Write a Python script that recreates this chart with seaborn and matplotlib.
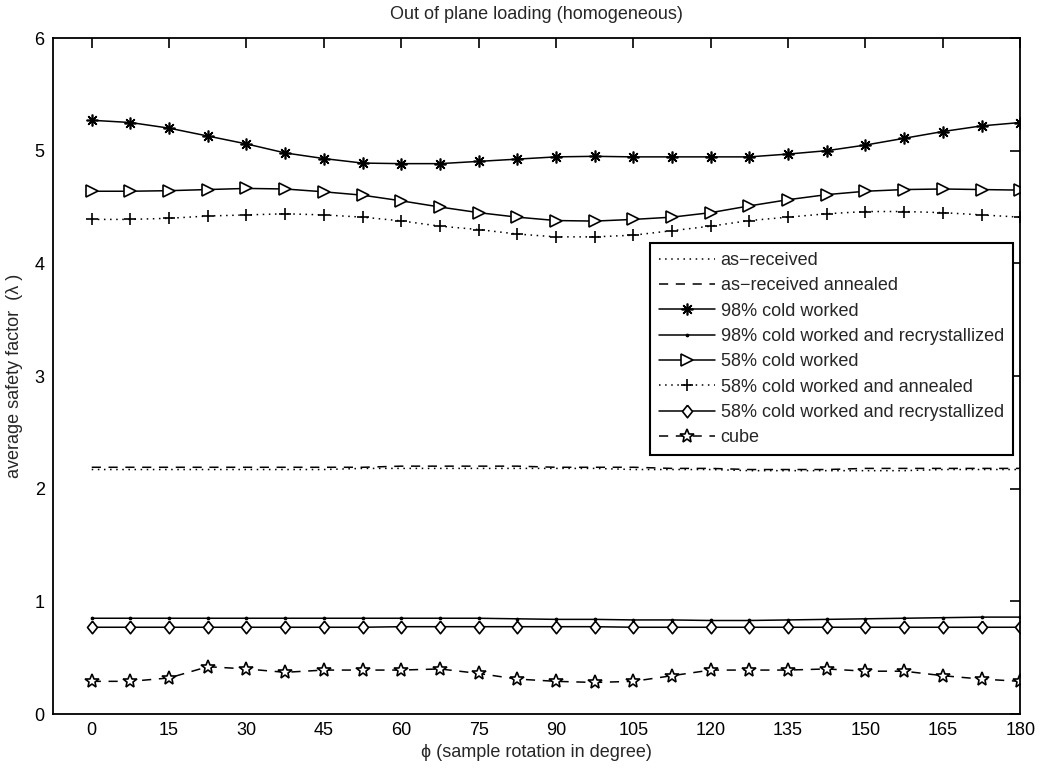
import numpy as np
import pandas as pd
import matplotlib
matplotlib.use("Agg")
import matplotlib.pyplot as plt
import seaborn as sns

# Sample rotation angles (degrees)
phi = [0, 7.5, 15, 22.5, 30, 37.5, 45, 52.5, 60, 67.5, 75, 82.5, 90,
       97.5, 105, 112.5, 120, 127.5, 135, 142.5, 150, 157.5, 165, 172.5, 180]

as_received = [2.17, 2.17, 2.17, 2.17, 2.17, 2.17, 2.17, 2.18, 2.18, 2.18, 2.18, 2.18, 2.18,
               2.18, 2.17, 2.17, 2.17, 2.16, 2.16, 2.16, 2.16, 2.16, 2.17, 2.17, 2.17]
as_received_annealed = [2.19, 2.19, 2.19, 2.19, 2.19, 2.19, 2.19, 2.19, 2.20, 2.20, 2.20, 2.20, 2.19,
                        2.19, 2.19, 2.18, 2.18, 2.17, 2.17, 2.17, 2.18, 2.18, 2.18, 2.18, 2.18]
cw98 = [5.27, 5.25, 5.20, 5.13, 5.06, 4.98, 4.93, 4.89, 4.885, 4.885, 4.905, 4.925, 4.945,
        4.95, 4.945, 4.945, 4.945, 4.945, 4.97, 5.00, 5.05, 5.11, 5.17, 5.22, 5.25]
cw98_recryst = [0.85, 0.85, 0.85, 0.85, 0.85, 0.85, 0.85, 0.85, 0.85, 0.85, 0.85, 0.845, 0.84,
                0.84, 0.835, 0.835, 0.83, 0.83, 0.835, 0.84, 0.845, 0.85, 0.855, 0.86, 0.86]
cw58 = [4.64, 4.64, 4.645, 4.655, 4.665, 4.66, 4.635, 4.605, 4.555, 4.50, 4.45, 4.41, 4.38,
        4.375, 4.39, 4.41, 4.45, 4.51, 4.565, 4.61, 4.64, 4.655, 4.66, 4.655, 4.65]
cw58_annealed = [4.39, 4.39, 4.40, 4.42, 4.43, 4.44, 4.43, 4.41, 4.377, 4.33, 4.30, 4.26, 4.235,
                 4.235, 4.25, 4.29, 4.33, 4.38, 4.41, 4.44, 4.46, 4.46, 4.45, 4.43, 4.41]
cw58_recryst = [0.77, 0.77, 0.77, 0.77, 0.77, 0.77, 0.77, 0.77, 0.775, 0.775, 0.775, 0.775, 0.775,
                0.775, 0.77, 0.77, 0.77, 0.77, 0.77, 0.77, 0.77, 0.77, 0.77, 0.77, 0.77]
cube = [0.29, 0.29, 0.32, 0.42, 0.40, 0.37, 0.39, 0.39, 0.39, 0.40, 0.36, 0.31, 0.29,
        0.28, 0.29, 0.34, 0.39, 0.39, 0.39, 0.40, 0.38, 0.38, 0.34, 0.31, 0.29]

labels = ["as\u2212received", "as\u2212received annealed", "98% cold worked",
          "98% cold worked and recrystallized", "58% cold worked",
          "58% cold worked and annealed", "58% cold worked and recrystallized", "cube"]
series = [as_received, as_received_annealed, cw98, cw98_recryst, cw58,
          cw58_annealed, cw58_recryst, cube]
xticks = [0, 15, 30, 45, 60, 75, 90, 105, 120, 135, 150, 165, 180]
yticks = [0, 1, 2, 3, 4, 5, 6]

FS = 13

sns.set_style("white")
plt.rcParams["font.family"] = ["Liberation Sans", "DejaVu Sans"]
plt.rcParams["font.size"] = FS

fig = plt.figure(figsize=(10.4, 7.68), dpi=100)
ax = fig.add_axes([0.051, 0.0703, 0.930, 0.8802])

diamond = [(0, 1), (0.8, 0), (0, -1), (-0.8, 0), (0, 1)]
styles = [
    dict(linestyle=(0, (1, 3)), marker=None),
    dict(linestyle=(0, (6, 5)), marker=None),
    dict(linestyle="-", marker=(8, 2, 0), markersize=8.5),
    dict(linestyle="-", marker=".", markersize=3),
    dict(linestyle="-", marker=">", markersize=8.5, markerfacecolor="white"),
    dict(linestyle=(0, (1, 3)), marker="+", markersize=9),
    dict(linestyle="-", marker=diamond, markersize=9, markerfacecolor="white"),
    dict(linestyle=(0, (6, 5)), marker="*", markersize=10.5, markerfacecolor="white"),
]

for lab, vals, st in zip(labels, series, styles):
    df = pd.DataFrame({"phi": phi, "val": vals})
    kw = dict(color="black", linewidth=1.1, markeredgecolor="black",
              markeredgewidth=1.2)
    kw.update(st)
    if kw["marker"] is None:
        kw.pop("marker")
        kw.pop("markeredgecolor")
        kw.pop("markeredgewidth")
    sns.lineplot(data=df, x="phi", y="val", ax=ax, label=lab, sort=False,
                 estimator=None, **kw)

ax.set_xlim(-7.5, 180)
ax.set_ylim(0, 6)
ax.set_xticks(xticks)
ax.set_yticks(yticks)
ax.tick_params(direction="in", length=7, width=1.2, top=True, right=True,
               labelsize=FS, pad=6, colors="black")
for s in ax.spines.values():
    s.set_visible(True)
    s.set_color("black")
    s.set_linewidth(1.3)

ax.set_title("Out of plane loading (homogeneous)", fontsize=FS, pad=14)
ax.set_xlabel("\u03d5 (sample rotation in degree)", fontsize=FS, labelpad=3)
ax.set_ylabel("average safety factor  (\u03bb )", fontsize=FS, labelpad=8)

leg = ax.legend(loc="upper right", bbox_to_anchor=(1013 / 1040, 1 - 243 / 768),
                bbox_transform=fig.transFigure, borderaxespad=0,
                frameon=True, fancybox=False, handlelength=3.1,
                handletextpad=0.3, labelspacing=0.46, borderpad=0.5,
                fontsize=FS)
leg.get_frame().set_edgecolor("black")
leg.get_frame().set_linewidth(1.5)
leg.get_frame().set_alpha(1)

fig.savefig("out.png", dpi=100)
